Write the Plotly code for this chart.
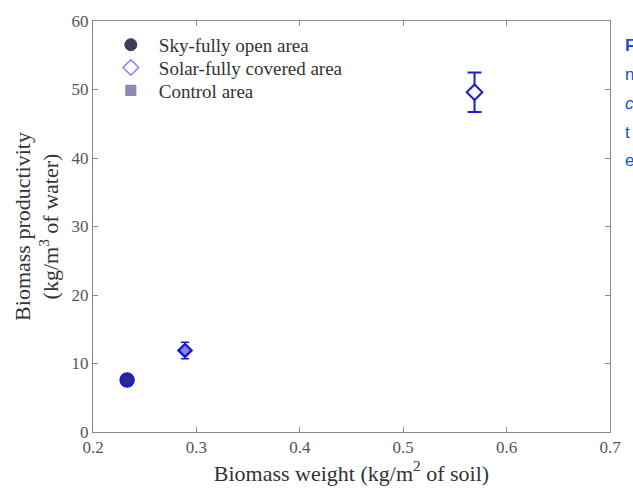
import plotly.graph_objects as go

# Series values: biomass weight (kg/m^2 of soil) vs productivity (kg/m^3 of water)
sky_x = [0.233]
sky_y = [7.6]
sky_err = [0.7]

control_x = [0.289]
control_y = [11.9]
control_err = [1.2]

solar_x = [0.569]
solar_y = [49.6]
solar_err = [2.9]

series_names = ["Sky-fully open area", "Solar-fully covered area", "Control area"]

x_ticks = [0.2, 0.3, 0.4, 0.5, 0.6, 0.7]
y_ticks = [0, 10, 20, 30, 40, 50, 60]

BLUE = "#1c1cd6"
SERIF = "Liberation Serif, Times New Roman, serif"
GREY = "#555555"

# Plot-area geometry in pixels (used to place paper-referenced items)
L, R, T, B, W, H = 93, 14, 19, 58, 633, 491
PW, PH = W - L - R, H - T - B


def px_x(x):
    return (x - L) / PW


def px_y(y):
    return (H - B - y) / PH


fig = go.Figure()

# Measured points with error bars
fig.add_trace(go.Scatter(
    x=sky_x, y=sky_y, mode="markers", showlegend=False,
    marker=dict(symbol="circle", size=13, color="#2a2a8a",
                line=dict(color=BLUE, width=2.5)),
    error_y=dict(type="data", array=sky_err, color=BLUE, thickness=1.5, width=4),
))
fig.add_trace(go.Scatter(
    x=control_x, y=control_y, mode="markers", showlegend=False,
    marker=dict(symbol="diamond", size=10, color="#8a8ad8",
                line=dict(color=BLUE, width=2.5)),
    error_y=dict(type="data", array=control_err, color=BLUE, thickness=1.5, width=4),
))
fig.add_trace(go.Scatter(
    x=solar_x, y=solar_y, mode="markers", showlegend=False,
    marker=dict(symbol="diamond", size=12, color="white",
                line=dict(color=BLUE, width=2)),
    error_y=dict(type="data", array=solar_err, color=BLUE, thickness=2, width=7),
))

# Legend entries, each in its own legend box so the rows sit close together
legend_styles = [
    dict(symbol="circle", size=12, color="#3c3c5c", line=dict(color="#3c3c5c", width=1)),
    dict(symbol="diamond-open", size=12, color="#8080ff", line=dict(width=1.5)),
    dict(symbol="square", size=10, color="#8c8cb4", line=dict(color="#7a7aa8", width=1)),
]
legend_ids = ["legend", "legend2", "legend3"]
legend_rows = [43, 66, 89]
for name, style, lid in zip(series_names, legend_styles, legend_ids):
    fig.add_trace(go.Scatter(x=[None], y=[None], mode="markers", name=name,
                             marker=style, legend=lid))

axis_common = dict(
    showline=True, linecolor="#8a8a8a", linewidth=1, mirror="ticks",
    ticks="inside", ticklen=5, tickcolor="#8a8a8a", showgrid=False, zeroline=False,
    tickfont=dict(family=SERIF, size=17, color=GREY),
)

fig.update_xaxes(
    range=[0.2, 0.7], tickvals=x_ticks, ticktext=[str(v) for v in x_ticks],
    title=dict(text="Biomass weight (kg/m<sup>2</sup> of soil)", standoff=6,
               font=dict(family=SERIF, size=22, color="#333333")),
    **axis_common,
)
fig.update_yaxes(
    range=[0, 60], tickvals=y_ticks,
    title=dict(text="Biomass productivity<br>(kg/m<sup>3</sup> of water)", standoff=6,
               font=dict(family=SERIF, size=22, color="#333333")),
    **axis_common,
)

# Caption fragments in the adjacent column
caption_bits = [("<b>F</b>", 44, "normal"), ("n", 73, "normal"), ("c", 102, "italic"),
                ("t", 131, "normal"), ("e", 160, "normal")]
for txt, ypx, style in caption_bits:
    fig.add_annotation(
        xref="paper", yref="paper", x=px_x(627), y=px_y(ypx),
        text=txt, showarrow=False, xanchor="left", yanchor="middle",
        borderpad=0, xshift=6,
        font=dict(family="Liberation Sans, Arial, sans-serif", size=17,
                  color="#1a4fd0", style=style),
    )

legend_base = dict(xanchor="left", yanchor="middle", bgcolor="rgba(0,0,0,0)",
                   itemwidth=46, font=dict(family=SERIF, size=19, color="#333333"))
layout_legends = {
    lid: dict(x=px_x(103), y=px_y(row), **legend_base)
    for lid, row in zip(legend_ids, legend_rows)
}

fig.update_layout(
    width=W, height=H,
    margin=dict(l=L, r=R, t=T, b=B),
    paper_bgcolor="white", plot_bgcolor="white",
    **layout_legends,
)

fig.write_html("out.html")
